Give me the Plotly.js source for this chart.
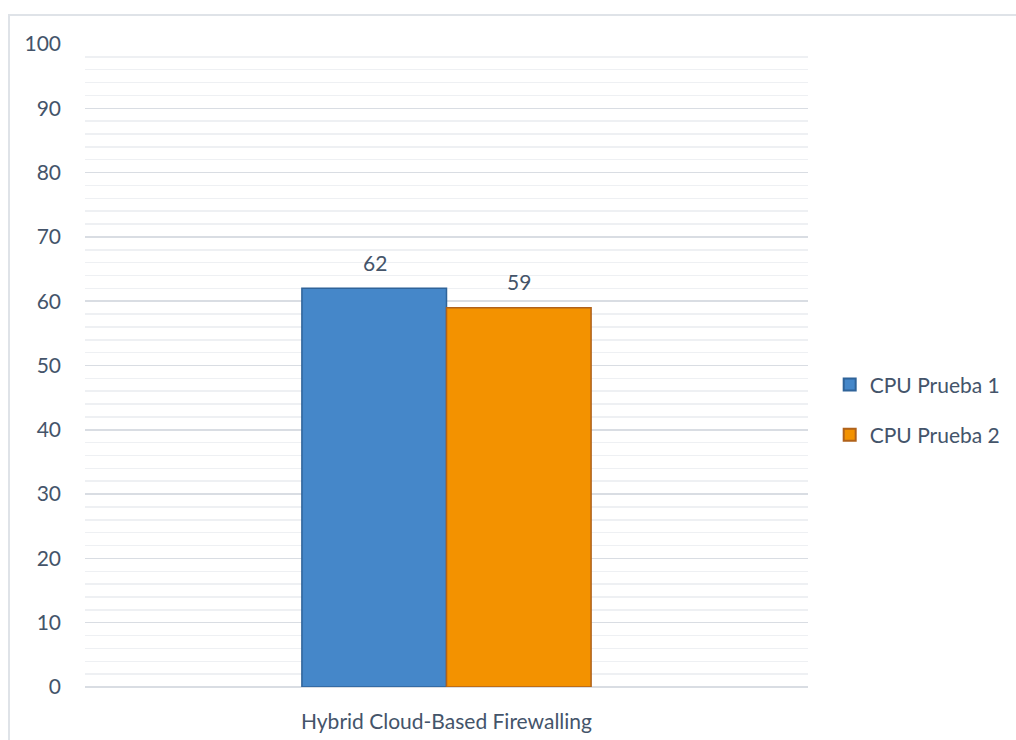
<!DOCTYPE html>
<html>
<head>
<meta charset="utf-8">
<script src="https://cdn.plot.ly/plotly-3.0.1.min.js"></script>
<style>
  html, body { margin: 0; padding: 0; background: #ffffff; }
  #wrap { position: relative; width: 1016px; height: 740px; overflow: hidden; }
  #chart { position: absolute; left: 0; top: 0; width: 1016px; height: 740px; }
  #frame { position: absolute; left: 8px; top: 14px; width: 1020px; height: 740px;
           border-left: 2px solid #dfe3e8; border-top: 2px solid #dfe3e8; pointer-events: none; }
</style>
</head>
<body>
<div id="wrap">
  <div id="chart"></div>
  <div id="frame"></div>
</div>
<script>
const categories = ["Hybrid Cloud-Based Firewalling"];
const seriesNames = ["CPU Prueba 1", "CPU Prueba 2"];
const prueba1 = [62];
const prueba2 = [59];
const yTicks = [0, 10, 20, 30, 40, 50, 60, 70, 80, 90, 100];

const font = "Lato, 'Open Sans', sans-serif";
const textColor = "#44546a";
const fs = 21;

const traces = [
  {
    type: "bar", name: seriesNames[0], x: categories, y: prueba1,
    marker: { color: "#4587c9", line: { color: "#2f6399", width: 1.5 } },
    legendgroup: "a"
  },
  {
    type: "bar", name: seriesNames[1], x: categories, y: prueba2,
    marker: { color: "#f39200", line: { color: "#b0621a", width: 1.5 } },
    legendgroup: "b"
  }
];

const seriesData = [prueba1, prueba2];
const offsets = [-72, 72];
const annotations = [];
seriesData.forEach((vals, si) => {
  vals.forEach((v, ci) => {
    annotations.push({
      x: categories[ci], y: v, xref: "x", yref: "y",
      text: String(v), showarrow: false,
      xshift: offsets[si], yshift: 26,
      font: { family: font, size: fs, color: textColor }
    });
  });
});

const layout = {
  width: 1016, height: 740,
  margin: { l: 85, r: 208, t: 44, b: 53, autoexpand: false },
  paper_bgcolor: "#ffffff", plot_bgcolor: "#ffffff",
  font: { family: font, size: fs, color: textColor },
  barmode: "group", bargap: 0.6, bargroupgap: 0,
  showlegend: true,
  annotations: annotations,
  legend: {
    x: 1.03, xanchor: "left", y: 0.431, yanchor: "middle",
    traceorder: "grouped", tracegroupgap: 20,
    font: { family: font, size: fs, color: textColor },
    itemsizing: "constant", itemwidth: 30
  },
  xaxis: {
    type: "category", showgrid: false, zeroline: false, showline: false,
    ticks: "", ticklabelstandoff: 20,
    tickfont: { family: font, size: fs, color: textColor }
  },
  yaxis: {
    range: [0, 100], tickvals: yTicks, ticktext: yTicks.map(String),
    showgrid: true, gridcolor: "#d9dde3", gridwidth: 1.5,
    minor: { dtick: 2, showgrid: true, gridcolor: "#eef0f3", gridwidth: 1.5 },
    zeroline: true, zerolinecolor: "#d9dde3", zerolinewidth: 1.5,
    showline: false, ticks: "", ticklabelstandoff: 23,
    tickfont: { family: font, size: fs, color: textColor }
  }
};

Plotly.newPlot("chart", traces, layout, { displayModeBar: false, staticPlot: true });
</script>
</body>
</html>
